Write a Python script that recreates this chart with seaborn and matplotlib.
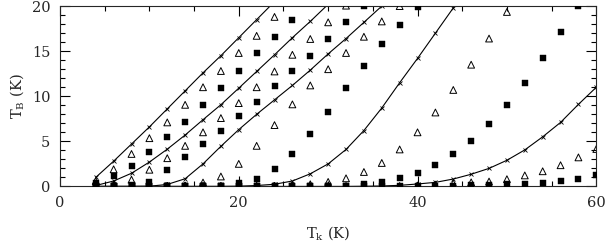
import matplotlib
matplotlib.use("Agg")
import matplotlib.pyplot as plt
import seaborn as sns
from matplotlib.ticker import MultipleLocator

# ------------------------------------------------------------------
# Donnees : T_B (K) en fonction de T_k (K)
# grille commune de T_k, chaque serie s'arrete juste apres y = 20
# ------------------------------------------------------------------
tk = [4, 6, 8, 10, 12, 14, 16, 18, 20, 22, 24, 26, 28, 30, 32,
      34, 36, 38, 40, 42, 44, 46, 48, 50, 52, 54, 56, 58, 60]

# famille 1
line_1 = [1.0, 2.8, 4.7, 6.6, 8.6, 10.6, 12.6, 14.5, 16.5, 18.5, 20.5]
tri_1 = [0.6, 1.9, 3.6, 5.35, 7.1, 9.05, 11.0, 12.8, 14.8, 16.7, 18.8, 20.7]
sq_1 = [0.4, 1.1, 2.3, 3.8, 5.5, 7.2, 9.05, 10.9, 12.8, 14.75, 16.6, 18.5, 20.4]

# famille 2
line_2 = [0.1, 0.6, 1.46, 2.7, 4.13, 5.7, 7.4, 9.06, 10.9, 12.75, 14.6, 16.5,
          18.3, 20.2]
tri_2 = [0.1, 0.2, 0.75, 1.85, 3.13, 4.5, 6.0, 7.58, 9.24, 11.0, 12.75, 14.6,
         16.35, 18.2, 20.05]
sq_2 = [0.05, 0.1, 0.15, 0.45, 1.83, 3.3, 4.7, 6.2, 7.76, 9.4, 11.1, 12.8,
        14.5, 16.35, 18.2, 20.0]

# famille 3
line_3 = [0.0, 0.0, 0.0, 0.02, 0.22, 0.85, 2.5, 4.45, 6.3, 8.0, 9.6, 11.2,
          12.9, 14.7, 16.4, 18.2, 20.0]
tri_3 = [0.05, 0.05, 0.05, 0.05, 0.05, 0.1, 0.43, 1.1, 2.5, 4.5, 6.8, 9.1,
         11.2, 13.0, 14.8, 16.6, 18.3, 20.0]
sq_3 = [0.05, 0.05, 0.05, 0.05, 0.05, 0.05, 0.05, 0.1, 0.35, 0.83, 1.9, 3.6,
        5.8, 8.3, 10.9, 13.4, 15.8, 17.9, 19.95, 21.8]

# famille 4
line_4 = [0.0, 0.0, 0.0, 0.0, 0.0, 0.0, 0.0, 0.0, 0.02, 0.1, 0.24, 0.6,
          1.4, 2.5, 4.1, 6.2, 8.7, 11.5, 14.2, 17.0, 19.8, 22.6]
tri_4 = [0.05, 0.05, 0.05, 0.05, 0.05, 0.05, 0.05, 0.05, 0.05, 0.05, 0.05,
         0.1, 0.24, 0.5, 0.9, 1.6, 2.6, 4.1, 6.0, 8.2, 10.7, 13.5, 16.4,
         19.35, 22.3]
sq_4 = [0.05, 0.05, 0.05, 0.05, 0.05, 0.05, 0.05, 0.05, 0.05, 0.05, 0.05,
        0.05, 0.05, 0.05, 0.1, 0.3, 0.5, 0.9, 1.5, 2.4, 3.6, 5.06, 6.9, 9.0,
        11.5, 14.2, 17.1, 20.0, 23.0]

# famille 5
line_5 = [0.0, 0.0, 0.0, 0.0, 0.0, 0.0, 0.0, 0.0, 0.0, 0.0, 0.0, 0.0, 0.0,
          0.0, 0.0, 0.02, 0.05, 0.12, 0.27, 0.45, 0.82, 1.35, 2.0, 2.9,
          4.05, 5.5, 7.1, 9.1, 11.0]
tri_5 = [0.05, 0.05, 0.05, 0.05, 0.05, 0.05, 0.05, 0.05, 0.05, 0.05, 0.05,
         0.05, 0.05, 0.05, 0.05, 0.05, 0.05, 0.05, 0.1, 0.2, 0.33, 0.45,
         0.54, 0.8, 1.22, 1.68, 2.35, 3.22, 4.15]
sq_5 = [0.05, 0.05, 0.05, 0.05, 0.05, 0.05, 0.05, 0.05, 0.05, 0.05, 0.05,
        0.05, 0.05, 0.05, 0.05, 0.05, 0.05, 0.05, 0.05, 0.08, 0.1, 0.15,
        0.2, 0.25, 0.28, 0.42, 0.6, 0.86, 1.3]

lignes = [line_1, line_2, line_3, line_4, line_5]
triangles = [tri_1, tri_2, tri_3, tri_4, tri_5]
carres = [sq_1, sq_2, sq_3, sq_4, sq_5]

# ------------------------------------------------------------------
# Style
# ------------------------------------------------------------------
sns.set_style("ticks")
plt.rcParams['font.family'] = ['DejaVu Serif']
plt.rcParams['mathtext.fontset'] = 'dejavuserif'

fig = plt.figure(figsize=(6.06, 2.44), dpi=100)
ax = fig.add_axes([0.099, 0.236, 0.885, 0.739])

for vals in lignes:
    sns.lineplot(x=tk[:len(vals)], y=vals, ax=ax, color='black', lw=0.8,
                 marker='x', markersize=2.5, markeredgewidth=0.6,
                 markeredgecolor='black', errorbar=None, sort=False)

for vals in triangles:
    sns.scatterplot(x=tk[:len(vals)], y=vals, ax=ax, marker='^', s=24,
                    color='black', facecolor='none', edgecolor='black',
                    linewidth=0.7, zorder=3)

for vals in carres:
    sns.scatterplot(x=tk[:len(vals)], y=vals, ax=ax, marker='s', s=16,
                    color='black', edgecolor='black', linewidth=0.3,
                    zorder=3)

ax.set_xlim(0, 60)
ax.set_ylim(0, 20)
ax.xaxis.set_major_locator(MultipleLocator(20))
ax.xaxis.set_minor_locator(MultipleLocator(5))
ax.yaxis.set_major_locator(MultipleLocator(5))
ax.yaxis.set_minor_locator(MultipleLocator(1))
ax.tick_params(which='both', direction='in', top=True, right=True,
               labelsize=10.5, width=0.8, color='black')
ax.tick_params(which='major', length=7, pad=7)
ax.tick_params(which='minor', length=3.5)
for s in ax.spines.values():
    s.set_linewidth(0.8)

ax.set_xlabel(r'T$_\mathregular{k}$ (K)', fontsize=10.5, labelpad=10)
ax.set_ylabel(r'T$_\mathregular{B}$ (K)', fontsize=10.5, labelpad=4)

plt.savefig('out.png', dpi=100)
